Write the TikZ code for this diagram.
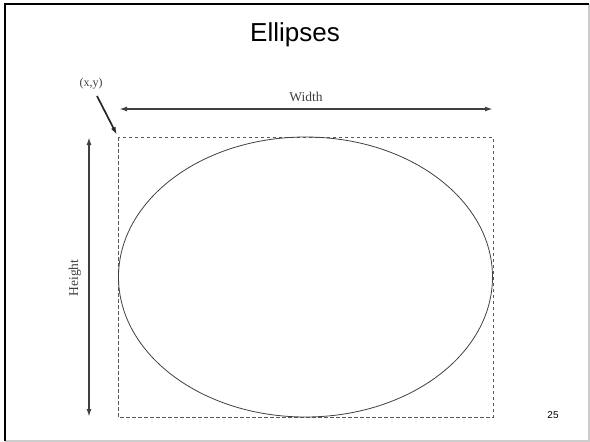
\documentclass[tikz,border=0pt]{standalone}
\usepackage{fontspec}
\setmainfont{Liberation Serif}
\newfontfamily\slidefont{Liberation Sans}
\usetikzlibrary{arrows.meta,shapes.geometric}

\begin{document}
\begin{tikzpicture}[
		x=1pt, y=-1pt,
		guide/.style={draw=black!65, dashed, dash pattern=on 3.5pt off 2.5pt, line width=0.9pt},
		oval/.style={draw=black!75, ellipse, line width=0.8pt, inner sep=0pt},
		dim/.style={{Latex[length=8pt,width=5pt]}-{Latex[length=8pt,width=5pt]}, draw=black!75, line width=1.8pt},
		pointer/.style={-{Latex[length=8pt,width=5pt]}, draw=black!85, line width=1.7pt},
		lbl/.style={font=\fontsize{13.5}{16}\selectfont, text=black!75}
	]
		\useasboundingbox (0,0) rectangle (590,442);
		% slide frame
		\draw[black!20, line width=1.5pt] (589,4) -- (589,441) -- (5,441);
		\draw[black, line width=2pt] (5,441) -- (5,4) -- (589,4);
		\node[font=\slidefont\fontsize{26}{30}\selectfont] (title) at (295,35) {Ellipses};
		\node[font=\slidefont\fontsize{10}{12}\selectfont] (page) at (553,415) {25};
		% bounding rectangle and ellipse
		\coordinate (tl) at (118,137);
		\coordinate (br) at (493,417);
		\draw[guide] (tl) rectangle (br);
		\node[oval, minimum width=374pt, minimum height=280pt] (shape) at (305.5,277) {};
		% width
		\coordinate (wl) at (119,109);
		\coordinate (wr) at (493,109);
		\draw[dim] (wl) -- node[lbl, above=3pt] (wtext) {Width} (wr);
		% height
		\coordinate (ht) at (89,137);
		\coordinate (hb) at (89,417);
		\draw[dim] (ht) -- (hb);
		\node[lbl, rotate=90] (htext) at (75,278) {Height};
		% corner
		\node[lbl, font=\fontsize{12}{14}\selectfont] (xy) at (91,84) {(x,y)};
		\coordinate (xyfoot) at (97,96);
		\draw[pointer] (xyfoot) -- ([shift={(-1,-2)}]tl);
	\end{tikzpicture}
\end{document}
